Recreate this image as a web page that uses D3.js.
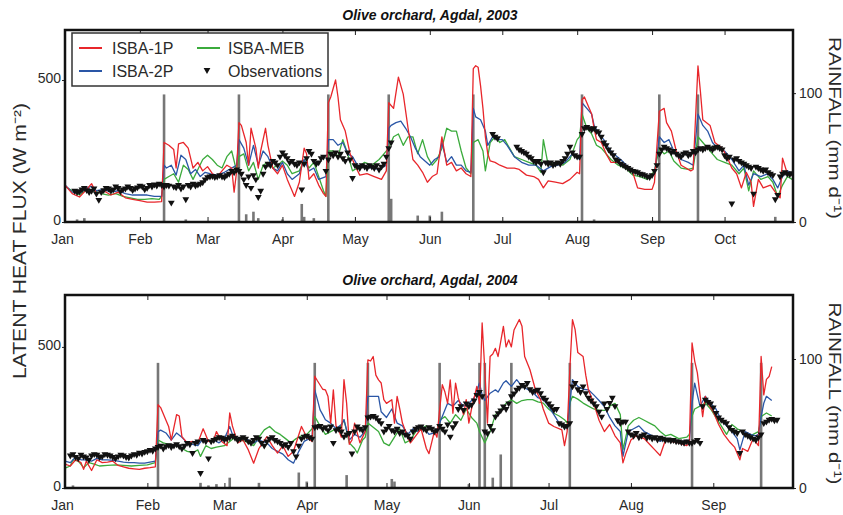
<!DOCTYPE html>
<html><head><meta charset="utf-8">
<script src="https://cdn.jsdelivr.net/npm/d3@7"></script>
<style>
body{margin:0;background:#fff;}
text{font-family:Arial,"Liberation Sans",sans-serif;}
</style>
</head><body>
<svg id="c" width="843" height="515"></svg>
<script>
// ---------- DATA ----------
const seriesNames = ["ISBA-1P", "ISBA-2P", "ISBA-MEB", "Observations"];
const titles = ["Olive orchard, Agdal, 2003", "Olive orchard, Agdal, 2004"];
const yLabel = "LATENT HEAT FLUX (W m\u207B\u00B2)";
const rainLabel = "RAINFALL (mm d\u207B\u00B9)";
const months2003 = ["Jan","Feb","Mar","Apr","May","Jun","Jul","Aug","Sep","Oct"];
const months2004 = ["Jan","Feb","Mar","Apr","May","Jun","Jul","Aug","Sep"];
const fluxTicks = [0, 500];
const rainTicks = [0, 100];

// [day of year (0 = Jan 1), W m-2]
const red2003 = [[0,130],[3,100],[6,88],[9,115],[11,135],[13,100],[16,110],[19,95],[22,105],[25,85],[28,80],[31,75],[34,70],[37,70],[40,72],[41,280],[43,270],[45,255],[46,190],[47,275],[49,280],[51,260],[53,190],[55,210],[57,180],[59,195],[61,170],[63,160],[65,180],[67,200],[69,190],[70,105],[71,175],[72,350],[73,340],[75,280],[76,200],[77,330],[79,260],[80,190],[81,250],[83,330],[84,270],[86,190],[88,170],[90,200],[92,150],[94,110],[95,90],[97,140],[99,260],[100,240],[101,150],[103,170],[105,130],[107,100],[108,90],[109,420],[110,440],[111,470],[112,500],[113,440],[114,360],[116,320],[118,240],[120,200],[122,165],[125,170],[128,160],[131,150],[133,180],[134,420],[136,400],[138,510],[140,450],[142,330],[144,220],[146,200],[148,175],[150,140],[152,160],[154,170],[156,300],[158,200],[160,210],[162,180],[164,190],[166,170],[168,160],[169,540],[170,550],[171,545],[172,480],[173,400],[174,300],[175,240],[176,215],[178,210],[180,200],[183,190],[186,190],[188,185],[191,165],[194,160],[196,150],[198,120],[200,145],[203,140],[206,135],[209,150],[212,175],[213,170],[214,430],[215,440],[216,420],[218,380],[219,330],[220,290],[222,280],[224,240],[226,210],[229,210],[232,200],[235,175],[237,120],[240,115],[243,115],[244,140],[246,390],[248,400],[249,350],[251,320],[253,250],[255,200],[257,190],[259,180],[260,185],[262,550],[263,460],[264,360],[267,340],[269,280],[272,260],[274,230],[276,190],[278,170],[280,120],[282,175],[284,140],[285,55],[287,150],[289,120],[292,130],[294,105],[296,85],[297,225],[299,170],[301,165]];
const blue2003 = [[0,130],[3,105],[6,100],[9,120],[11,125],[13,110],[16,115],[19,105],[22,110],[25,100],[28,95],[31,95],[34,95],[37,90],[40,90],[41,200],[42,190],[44,200],[46,165],[48,235],[50,220],[52,170],[54,185],[56,160],[58,175],[60,170],[63,165],[66,175],[69,190],[71,200],[72,290],[74,260],[76,200],[78,270],[80,200],[82,250],[84,230],[86,190],[88,180],[90,210],[92,170],[94,150],[97,170],[99,220],[101,180],[103,190],[105,150],[108,160],[109,290],[111,290],[113,270],[115,280],[117,240],[119,230],[121,200],[124,195],[127,190],[130,185],[133,200],[134,330],[135,340],[137,350],[139,355],[141,330],[143,300],[145,260],[147,230],[149,215],[151,200],[153,220],[155,230],[156,280],[158,210],[160,230],[162,200],[164,200],[166,180],[168,175],[169,400],[170,370],[172,360],[174,320],[175,270],[177,300],[179,290],[181,290],[183,270],[186,230],[189,210],[192,200],[195,200],[198,180],[201,195],[204,200],[207,210],[210,240],[212,230],[213,220],[214,420],[216,400],[218,380],[219,340],[221,310],[223,290],[225,260],[227,240],[230,220],[233,195],[236,175],[239,170],[242,160],[244,170],[246,300],[248,280],[250,290],[252,250],[255,220],[258,210],[260,200],[262,380],[264,340],[266,320],[268,280],[270,260],[273,250],[276,220],[279,180],[281,200],[283,130],[285,170],[288,160],[291,170],[293,150],[295,120],[297,160],[299,180],[301,170]];
const green2003 = [[0,125],[3,110],[6,95],[9,115],[12,110],[15,100],[18,95],[21,100],[24,90],[27,85],[30,80],[33,80],[36,82],[39,80],[40,90],[41,150],[43,160],[45,170],[47,140],[49,200],[51,185],[53,150],[55,185],[57,220],[59,235],[61,220],[63,200],[65,190],[67,230],[69,250],[71,180],[72,230],[74,240],[76,180],[78,210],[80,150],[82,200],[84,210],[86,190],[88,200],[90,215],[92,200],[94,170],[97,180],[99,220],[101,190],[103,210],[105,160],[107,110],[108,90],[109,250],[111,250],[113,230],[115,290],[117,240],[119,180],[121,190],[124,210],[127,200],[130,220],[132,240],[134,260],[136,300],[138,310],[140,270],[142,300],[144,300],[146,240],[148,290],[150,230],[152,200],[154,220],[156,260],[158,330],[160,320],[162,320],[164,250],[166,190],[168,170],[169,280],[171,290],[173,250],[174,180],[176,280],[178,300],[180,280],[182,290],[184,260],[186,230],[189,220],[192,210],[195,200],[197,175],[198,290],[200,200],[203,210],[206,200],[209,220],[212,290],[213,300],[214,380],[216,330],[218,310],[220,270],[222,260],[224,240],[226,220],[229,200],[232,190],[235,165],[238,160],[241,150],[244,180],[246,260],[248,240],[250,250],[252,215],[255,190],[258,185],[260,190],[262,300],[264,280],[266,260],[268,240],[270,220],[273,210],[276,200],[279,170],[281,190],[283,110],[285,180],[288,150],[291,160],[293,140],[295,90],[297,130],[299,160],[301,150]];
// observation runs: [first day, daily values]
const obs2003 = [
  [4,[110,105,108,115,120,112,105,110,118,100,78,105,112,120,118,110,115,125,120,108,115,118,125,120,112,118,122,128,125,115,120,130,125,132,128,135,130]],
  [41,[125,130,128,68,125,122,130,118,125,80,130,125,135,128,132,135,140,150,158,160,162,158,160,165,160,158,165,170,180,175,185]],
  [72,[180,170,150,130,160,120,165,150,88,110,170,195,205,200,215,210,200,230,245,235,225,210,215,205,200,210,115,205,225,250,240,215,205,210,225,230,180]],
  [109,[220,240,235,245,230,240,225,215,245,220,155,200,195,190,200,195,190,200,195,190,200,185,195,205,230,260,280]],
  [177,[310,300,295]],
  [187,[265,255,250,245,240,230,225,215,210,215,205,175,210,205,210,200,205,210,205,215,225,240,265,245,235,230,230]],
  [214,[310,330,335,330,325,330,320,315,300,280,270,255,245,235,220,215,205,200,195,190,185,180,178,175,170,168,165,160,158]],
  [243,[165,180,200,240,255,265,260,255,245,250,240,235,230,240,245,235,240,250,245,255,260,255,260,265,260,255,262,265,260,255,235,225,230,65,220,225,215,210,205,200,195,190,100,195,190,185,180,185,175,170,165,80,95,160,170,175,170,168,172]]
];
// [day, mm d-1]
const rain2003 = [[5,2],[8,3],[41,99],[50,2],[72,99],[75,6],[78,8],[80,3],[90,2],[98,14],[99,4],[103,3],[109,99],[134,99],[135,18],[146,5],[151,5],[156,8],[169,99],[214,99],[219,2],[246,99],[262,99],[294,4]];

const red2004 = [[0,85],[2,78],[4,100],[6,90],[7,66],[8,95],[10,62],[12,100],[14,90],[16,92],[18,95],[20,80],[22,75],[24,70],[26,68],[28,66],[30,70],[32,72],[34,75],[35,295],[36,285],[38,240],[39,218],[40,170],[42,260],[43,255],[44,182],[46,160],[48,165],[50,160],[52,210],[54,165],[56,170],[57,200],[59,165],[61,150],[62,266],[63,220],[65,160],[67,170],[69,135],[71,88],[73,140],[76,182],[78,150],[80,124],[82,150],[84,112],[86,130],[89,218],[91,180],[93,165],[94,396],[95,380],[97,350],[98,348],[99,324],[100,230],[101,348],[102,220],[103,206],[104,180],[105,384],[106,300],[107,155],[108,170],[109,230],[111,160],[113,200],[114,454],[115,450],[116,466],[117,400],[118,383],[119,372],[120,313],[121,300],[123,313],[124,230],[125,325],[126,280],[127,230],[129,180],[130,160],[132,185],[134,210],[136,140],[137,122],[139,200],[140,180],[141,277],[142,366],[143,340],[144,300],[145,383],[146,265],[147,372],[148,320],[150,260],[151,313],[152,230],[153,280],[155,360],[156,300],[157,585],[158,420],[159,230],[160,466],[161,475],[162,495],[163,466],[165,573],[166,500],[167,525],[168,500],[169,560],[171,597],[172,573],[173,466],[175,419],[177,350],[179,313],[180,280],[182,230],[184,218],[187,206],[188,150],[189,200],[190,420],[191,597],[192,561],[193,480],[195,466],[196,400],[197,348],[199,300],[201,240],[203,200],[205,225],[207,185],[209,160],[210,89],[211,120],[213,170],[215,185],[218,175],[220,155],[222,135],[224,115],[226,170],[228,165],[231,160],[234,150],[235,160],[236,514],[237,450],[238,408],[239,330],[240,253],[241,325],[242,300],[244,270],[246,225],[248,190],[250,165],[252,145],[254,100],[255,140],[257,130],[259,175],[261,150],[262,466],[263,330],[264,385],[265,395],[266,430]];
const blue2004 = [[0,95],[2,90],[4,110],[6,100],[8,100],[10,95],[12,105],[14,100],[16,100],[18,98],[20,95],[22,92],[24,90],[26,90],[28,88],[30,88],[32,92],[34,95],[35,200],[36,205],[38,195],[40,170],[42,195],[44,180],[46,160],[48,155],[50,150],[52,175],[54,165],[56,170],[58,160],[60,175],[62,218],[63,190],[65,175],[67,180],[69,170],[71,160],[73,170],[76,160],[78,140],[80,130],[82,120],[84,100],[86,88],[88,130],[90,165],[92,175],[93,180],[94,348],[95,313],[96,277],[97,260],[98,242],[100,230],[102,210],[104,225],[105,242],[107,170],[109,190],[111,180],[113,200],[114,325],[116,325],[118,325],[119,270],[121,250],[123,280],[125,230],[127,220],[129,190],[131,210],[133,200],[135,215],[137,190],[139,195],[140,200],[141,230],[142,253],[144,300],[146,290],[148,310],[150,290],[152,300],[154,320],[156,372],[157,330],[158,310],[160,336],[162,348],[163,340],[165,372],[166,380],[168,360],[170,384],[172,360],[174,350],[176,340],[178,320],[180,313],[182,290],[184,260],[186,230],[188,218],[189,210],[190,300],[191,384],[193,360],[195,350],[197,348],[199,330],[201,310],[203,289],[205,250],[207,220],[209,200],[210,112],[212,200],[214,210],[216,220],[218,200],[220,190],[222,180],[224,165],[226,175],[228,170],[231,160],[234,170],[235,165],[236,300],[237,372],[238,330],[239,290],[241,325],[243,300],[245,280],[247,240],[249,220],[251,200],[253,175],[254,135],[256,200],[258,190],[260,185],[261,190],[262,253],[263,300],[264,325],[266,310]];
const green2004 = [[0,70],[2,78],[3,100],[5,95],[7,72],[9,90],[11,85],[13,78],[16,80],[19,82],[22,80],[25,78],[28,80],[31,82],[34,90],[35,170],[37,160],[39,155],[42,150],[44,140],[46,130],[48,125],[50,135],[51,112],[53,150],[55,140],[57,145],[60,150],[62,165],[64,180],[66,170],[68,165],[71,150],[73,180],[75,206],[77,218],[79,200],[81,190],[83,175],[85,160],[87,175],[89,185],[91,190],[93,210],[94,253],[96,220],[98,190],[100,200],[102,210],[104,220],[105,242],[107,160],[109,140],[110,124],[112,170],[113,180],[114,230],[116,215],[118,200],[120,160],[122,150],[124,180],[126,210],[128,160],[130,170],[132,200],[134,210],[136,220],[138,205],[140,200],[141,240],[143,253],[145,230],[147,260],[149,240],[151,280],[153,250],[155,230],[156,200],[158,160],[160,200],[162,260],[164,277],[166,300],[168,313],[170,300],[172,310],[174,313],[176,313],[178,305],[180,301],[182,280],[184,265],[186,255],[188,242],[189,230],[190,300],[191,325],[193,315],[195,301],[197,290],[199,280],[201,275],[203,275],[205,290],[207,300],[209,260],[210,135],[212,220],[214,240],[216,250],[218,240],[220,230],[222,220],[224,200],[226,185],[228,190],[231,175],[234,180],[235,190],[236,255],[237,280],[239,290],[241,301],[243,280],[245,250],[247,220],[249,190],[251,225],[253,210],[255,200],[257,180],[259,190],[261,200],[262,253],[264,266],[266,255]];
const obs2004 = [
  [2,[115,120,110,105,118,112,108,100,115,120,118,110,112,120,118,115,110,105,112,118,115,110,108,115,120,118,125,122,128,130,135,132,140]],
  [35,[145,150,140,148,152,145,150,155,148,140,150,160,155,124,160,165,53,170,165,105,165,170,175,180,178,172,175,180,185,178,170,175,180]],
  [68,[175,165,160,170,180,175,160,150,165,175,180,170,165,160,150,155,145,160,130,112,150,175,182,185,180,175]],
  [94,[215,218,220,210,215,205,218,160,205,210,200,182,190,195,122,200,218,210,205,215]],
  [114,[250,253,255,250,240,230,200,210,220,205,200,210,195,200,190,185,175,200,210,215,218,210,205,215,210,200,205]],
  [141,[220,210,200,225,182,215,230,280,290,277,300,290,295,310,330,340,325,200,194,220,205,253,265,275,289,280,300,325,335,348,355,365,360,372,350,340,345,348,336,320,313,300,290,277,280,230,225,218,220,230]],
  [191,[360,372,350,340,360,336,320,310,300,290,270,253,300,280,301,320,290,240,230,235,235,200,190,185,195,180,185,190,178,182,175,180,172,178,175,170,172,168,170,165,165,162,160,165,160,160,165,170,160]],
  [240,[290,313,305,300,285,266,250,242,235,230,215,206,200,195,124,200,190,185,180,175,170,180,190,230,235,242,245,240,242]]
];
const rain2004 = [[3,2],[35,97],[51,4],[54,2],[57,3],[62,8],[73,4],[88,12],[91,5],[94,97],[106,10],[114,97],[123,7],[124,5],[141,97],[152,3],[156,97],[158,97],[161,8],[164,26],[168,97],[190,97],[236,97],[262,97]];

// ---------- DRAW ----------
const colors = {red:"#e8262b", blue:"#2a56a6", green:"#3bab3c", obs:"#111", rain:"#777"};
const svg = d3.select("#c");
const L = 65, R = 793;

function panel(cfg){
  const {top, bottom} = cfg;
  const x = d3.scaleUtc().domain([cfg.start, cfg.end]).range([L, R]);
  const y = d3.scaleLinear().domain([0, cfg.fluxMax]).range([bottom, top]);
  const yr = d3.scaleLinear().domain([0, cfg.rainMax]).range([bottom, top]);
  const dt = d => new Date(cfg.start.getTime() + d * 86400000);
  const g = svg.append("g");
  g.append("clipPath").attr("id", "clip" + cfg.id).append("rect")
    .attr("x", L).attr("y", top).attr("width", R - L).attr("height", bottom - top);
  const inner = g.append("g").attr("clip-path", `url(#clip${cfg.id})`);

  inner.selectAll("rect.rain").data(cfg.rain).join("rect").attr("class","rain")
    .attr("x", d => x(dt(d[0])) - 1.3).attr("width", 2.6)
    .attr("y", d => yr(d[1])).attr("height", d => bottom - yr(d[1]))
    .attr("fill", colors.rain);

  const line = d3.line().x(d => x(dt(d[0]))).y(d => y(d[1]));
  [[cfg.green, colors.green], [cfg.blue, colors.blue], [cfg.red, colors.red]].forEach(([data, c]) => {
    inner.append("path").datum(data).attr("d", line).attr("fill", "none")
      .attr("stroke", c).attr("stroke-width", 1.3).attr("stroke-linejoin", "round");
  });

  const pts = cfg.obs.flatMap(([s, vals]) => vals.map((v, i) => [s + i, v]));
  const tri = d3.symbol().type(d3.symbolTriangle).size(20);
  inner.selectAll("path.obs").data(pts).join("path").attr("class","obs")
    .attr("d", tri)
    .attr("transform", d => `translate(${x(dt(d[0]))},${y(d[1])}) rotate(180)`)
    .attr("fill", colors.obs);

  const monthDates = cfg.labels.map((_, i) => new Date(Date.UTC(cfg.year, i, 1)));
  const ax = g.append("g").attr("transform", `translate(0,${bottom})`)
    .call(d3.axisBottom(x).tickValues(monthDates).tickFormat((d, i) => cfg.labels[i])
      .tickSizeInner(-5).tickSizeOuter(0).tickPadding(12));
  ax.selectAll(".tick").filter((d, i) => i === 0).select("text").attr("dx", -3);
  const axT = g.append("g").attr("transform", `translate(0,${top})`)
    .call(d3.axisTop(x).tickValues(monthDates).tickFormat("").tickSizeInner(-5).tickSizeOuter(0));
  const ayl = g.append("g").attr("transform", `translate(${L},0)`)
    .call(d3.axisLeft(y).tickValues(fluxTicks).tickSize(3).tickPadding(1));
  ayl.selectAll(".tick text").attr("dy", "0.2em");
  const ayr = g.append("g").attr("transform", `translate(${R},0)`)
    .call(d3.axisRight(yr).tickValues(rainTicks).tickSize(3).tickPadding(3));
  [ax, axT, ayl, ayr].forEach(a => {
    a.select(".domain").remove();
    a.selectAll("text").attr("font-size", 14).attr("font-family", "Arial, 'Liberation Sans', sans-serif").attr("fill", "#2a2a2a");
    a.selectAll("line").attr("stroke", "#222");
  });

  g.append("rect").attr("x", L).attr("y", top).attr("width", R - L).attr("height", bottom - top)
    .attr("fill", "none").attr("stroke", "#111").attr("stroke-width", 2.5);

  g.append("text").attr("x", 430).attr("y", top - 10).attr("text-anchor", "middle")
    .attr("font-size", 14).attr("font-weight", "bold").attr("font-style", "italic")
    .attr("fill", "#111").text(cfg.title);

  g.append("text").attr("transform", `translate(829,${(top + bottom) / 2 + 2}) rotate(90)`)
    .attr("text-anchor", "middle").attr("font-size", 17).attr("fill", "#2a2a2a")
    .attr("textLength", 182).attr("lengthAdjust", "spacingAndGlyphs").text(rainLabel);
  return {x, y};
}

panel({id: 1, year: 2003, start: new Date(Date.UTC(2003,0,1)), end: new Date(Date.UTC(2003,9,29,8)),
  top: 30, bottom: 222, fluxMax: 676, rainMax: 149, labels: months2003, title: titles[0],
  red: red2003, blue: blue2003, green: green2003, obs: obs2003, rain: rain2003});
panel({id: 2, year: 2004, start: new Date(Date.UTC(2004,0,1)), end: new Date(Date.UTC(2004,9,1)),
  top: 295, bottom: 488, fluxMax: 684, rainMax: 149.6, labels: months2004, title: titles[1],
  red: red2004, blue: blue2004, green: green2004, obs: obs2004, rain: rain2004});

// left shared label
svg.append("text").attr("transform", "translate(26,241) rotate(-90)")
  .attr("text-anchor", "middle").attr("font-size", 18).attr("fill", "#2a2a2a")
  .attr("textLength", 276).attr("lengthAdjust", "spacingAndGlyphs").text(yLabel);

// legend
const lg = svg.append("g");
lg.append("rect").attr("x", 72).attr("y", 33).attr("width", 256).attr("height", 53)
  .attr("fill", "#fff").attr("stroke", "#333").attr("stroke-width", 1.5);
const legendItems = [
  {name: seriesNames[0], c: colors.red, lx: 79, tx: 112, y: 48, kind: "line"},
  {name: seriesNames[2], c: colors.green, lx: 197, tx: 228, y: 48, kind: "line"},
  {name: seriesNames[1], c: colors.blue, lx: 79, tx: 112, y: 71, kind: "line"},
  {name: seriesNames[3], c: colors.obs, lx: 203, tx: 228, y: 71, kind: "tri"}
];
legendItems.forEach(it => {
  if (it.kind === "line") {
    lg.append("line").attr("x1", it.lx).attr("x2", it.lx + 23).attr("y1", it.y).attr("y2", it.y)
      .attr("stroke", it.c).attr("stroke-width", 2);
  } else {
    lg.append("path").attr("d", d3.symbol().type(d3.symbolTriangle).size(20)())
      .attr("transform", `translate(${it.lx + 4},${it.y - 1}) rotate(180)`).attr("fill", it.c);
  }
  lg.append("text").attr("x", it.tx).attr("y", it.y).attr("dy", "0.35em")
    .attr("font-size", 16).attr("fill", "#2a2a2a").text(it.name);
});
</script>
</body></html>
